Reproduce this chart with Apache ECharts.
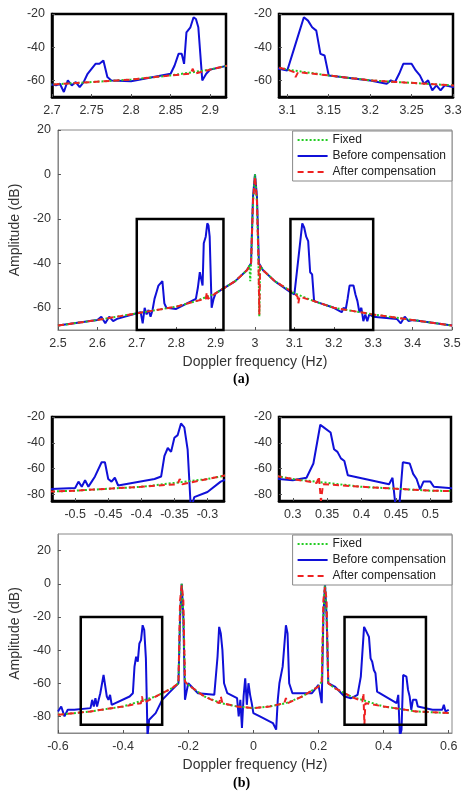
<!DOCTYPE html>
<html>
<head>
<meta charset="utf-8">
<script src="https://cdn.jsdelivr.net/npm/echarts@6/dist/echarts.min.js"></script>
<style>* {margin:0;padding:0;} #main {width:474px;height:798px;background:#fff;}</style>
</head>
<body>
<div id="main"></div>
<script>
// panel (a) data
let aFixX = [2.5, 2.6, 2.7, 2.8, 2.85, 2.9, 2.95, 2.98, 2.986, 2.988, 2.99, 2.995, 3.0, 3.005, 3.009, 3.011, 3.013, 3.02, 3.05, 3.1, 3.15, 3.2, 3.3, 3.4, 3.5];
let aFixY = [-68, -65.5, -62.5, -59.5, -57, -53.5, -48, -43, -41, -48, -40, -12, 0, -12, -40, -64, -41, -43, -48, -53.5, -57, -60, -63, -65.5, -68];
let aAftX = [2.5, 2.6, 2.7, 2.8, 2.85, 2.875, 2.878, 2.88, 2.9, 2.95, 2.98, 2.99, 2.995, 3.0, 3.005, 3.009, 3.011, 3.013, 3.02, 3.05, 3.1, 3.108, 3.11, 3.113, 3.15, 3.2, 3.3, 3.4, 3.5];
let aAftY = [-68, -65.5, -62.5, -59.5, -57, -56, -53, -56, -53.5, -48, -43, -40, -12, -1, -12, -40, -63, -41, -43, -48, -53.5, -55, -58, -55, -57, -60, -63, -65.5, -68];
let aBefX = [2.5, 2.6, 2.61, 2.62, 2.63, 2.64, 2.65, 2.7, 2.705, 2.71, 2.715, 2.72, 2.725, 2.73, 2.735, 2.74, 2.745, 2.75, 2.755, 2.76, 2.765, 2.77, 2.775, 2.8, 2.85, 2.855, 2.86, 2.864, 2.867, 2.87, 2.875, 2.879, 2.882, 2.885, 2.89, 2.895, 2.9, 2.95, 2.98, 2.99, 2.995, 3.0, 3.005, 3.01, 3.02, 3.05, 3.09, 3.1, 3.11, 3.12, 3.125, 3.13, 3.135, 3.14, 3.145, 3.15, 3.2, 3.22, 3.225, 3.23, 3.235, 3.24, 3.25, 3.255, 3.26, 3.265, 3.27, 3.275, 3.28, 3.285, 3.29, 3.3, 3.36, 3.37, 3.38, 3.39, 3.4, 3.5];
let aBefY = [-68, -65.5, -64, -67, -64, -66, -65, -62.5, -63, -62, -67, -60, -63, -61, -64, -61, -56, -53, -50, -50, -48, -58, -60, -60.5, -56, -51, -44, -44, -50, -31, -28, -22, -23, -28, -60, -56, -53.5, -48, -43, -40, -10, 0, -10, -40, -43, -48, -53, -54, -38, -22, -24, -28, -30, -44, -45, -57, -60, -62, -60, -61, -56, -50, -50, -54, -57, -62, -60, -66, -63, -66, -63, -64, -65, -67, -64, -66, -65.5, -68];
// panel (b) data
let bFixX = [-0.6, -0.5, -0.4, -0.3, -0.25, -0.23, -0.225, -0.22, -0.215, -0.21, -0.2, -0.15, -0.1, -0.05, 0, 0.05, 0.1, 0.15, 0.2, 0.21, 0.215, 0.22, 0.225, 0.23, 0.25, 0.3, 0.4, 0.5, 0.6];
let bFixY = [-79, -77, -74, -68, -63, -60, -20, 0, -20, -59, -61, -68, -72, -74, -75, -74, -72, -68, -62, -59, -20, 0, -20, -60, -63, -68, -74, -77, -78];
let bAftX = [-0.6, -0.5, -0.4, -0.345, -0.342, -0.338, -0.3, -0.25, -0.23, -0.225, -0.22, -0.215, -0.21, -0.2, -0.15, -0.105, -0.1, -0.095, -0.05, 0, 0.05, 0.095, 0.1, 0.105, 0.15, 0.2, 0.21, 0.215, 0.22, 0.225, 0.23, 0.25, 0.3, 0.335, 0.338, 0.341, 0.344, 0.4, 0.5, 0.6];
let bAftY = [-79, -77, -74, -72, -68, -72, -68, -63, -60, -10, -1, -10, -59, -61, -68, -72, -68, -72, -74, -75, -74, -72, -69, -72, -68, -62, -59, -10, -2, -10, -60, -63, -68, -71, -66, -85, -72, -74, -77, -78];
let bBefX = [-0.6, -0.59, -0.58, -0.57, -0.55, -0.5, -0.495, -0.49, -0.485, -0.48, -0.475, -0.47, -0.46, -0.455, -0.45, -0.445, -0.44, -0.435, -0.38, -0.37, -0.365, -0.36, -0.355, -0.35, -0.345, -0.34, -0.335, -0.33, -0.325, -0.32, -0.3, -0.28, -0.25, -0.23, -0.225, -0.22, -0.215, -0.21, -0.2, -0.17, -0.12, -0.11, -0.105, -0.1, -0.095, -0.09, -0.08, -0.05, -0.045, -0.04, -0.035, -0.03, -0.025, -0.02, -0.015, -0.01, -0.005, 0, 0.02, 0.06, 0.07, 0.075, 0.08, 0.09, 0.1, 0.105, 0.11, 0.12, 0.18, 0.2, 0.21, 0.215, 0.22, 0.225, 0.23, 0.25, 0.28, 0.3, 0.32, 0.33, 0.34, 0.345, 0.355, 0.36, 0.365, 0.37, 0.375, 0.38, 0.44, 0.445, 0.45, 0.455, 0.46, 0.47, 0.475, 0.48, 0.485, 0.49, 0.5, 0.505, 0.55, 0.58, 0.585, 0.59, 0.6];
let bBefY = [-77, -74, -80, -76, -76, -75, -70, -74, -69, -74, -70, -66, -55, -55, -68, -70, -67, -73, -68, -66, -50, -44, -47, -36, -34, -25, -28, -45, -92, -82, -78, -70, -64, -60, -20, 0, -20, -70, -60, -66, -67, -44, -26, -30, -40, -60, -66, -69, -80, -70, -87, -68, -57, -73, -60, -67, -72, -78, -80, -84, -88, -70, -60, -50, -25, -30, -60, -66, -66, -61, -72, -20, 0, -20, -60, -62, -68, -69, -67, -56, -26, -28, -32, -45, -47, -52, -54, -65, -72, -67, -92, -88, -55, -56, -64, -68, -76, -70, -70, -74, -76, -76, -73, -77, -76];
// axis ranges and tick labels
let aInL = [2.7, 2.92], aInR = [3.09, 3.3], aMain = [2.5, 3.5];
let aInTicksL = [2.7, 2.75, 2.8, 2.85, 2.9], aInTicksR = [3.1, 3.15, 3.2, 3.25, 3.3];
let aMainTicks = [2.5, 2.6, 2.7, 2.8, 2.9, 3, 3.1, 3.2, 3.3, 3.4, 3.5];
let aInY = [-70, -20], aInYTicks = [-60, -40, -20];
let aMainY = [-70, 20], aMainYTicks = [-60, -40, -20, 0, 20];
let bInL = [-0.535, -0.275], bInR = [0.28, 0.53], bMain = [-0.6, 0.61];
let bInTicksL = [-0.5, -0.45, -0.4, -0.35, -0.3], bInTicksR = [0.3, 0.35, 0.4, 0.45, 0.5];
let bMainTicks = [-0.6, -0.4, -0.2, 0, 0.2, 0.4, 0.6];
let bInY = [-85, -20], bInYTicks = [-80, -60, -40, -20];
let bMainY = [-90, 30], bMainYTicks = [-80, -60, -40, -20, 0, 20];

function pairs(xs, ys) { return xs.map((x, i) => [x, ys[i]]); }
let FONT = 'Liberation Sans';
let grids = [
	{left: 52, top: 14, width: 174, height: 83},
	{left: 279, top: 14, width: 174, height: 83},
	{left: 52, top: 130, width: 400, height: 200},
	{left: 52, top: 417, width: 172, height: 84},
	{left: 279, top: 417, width: 172, height: 84},
	{left: 52, top: 534, width: 400, height: 199}
];
let cfg = [
	{x: aInL, xt: aInTicksL, y: aInY, yt: aInYTicks, p: 'a', inset: true},
	{x: aInR, xt: aInTicksR, y: aInY, yt: aInYTicks, p: 'a', inset: true},
	{x: aMain, xt: aMainTicks, y: aMainY, yt: aMainYTicks, p: 'a', boxes: [aInL, aInR], bt: -20, bb: -70},
	{x: bInL, xt: bInTicksL, y: bInY, yt: bInYTicks, p: 'b', inset: true},
	{x: bInR, xt: bInTicksR, y: bInY, yt: bInYTicks, p: 'b', inset: true},
	{x: bMain, xt: bMainTicks, y: bMainY, yt: bMainYTicks, p: 'b', boxes: [[-0.53, -0.28], [0.28, 0.53]], bt: -20, bb: -85}
];
let data = {
	a: {fix: pairs(aFixX, aFixY), bef: pairs(aBefX, aBefY), aft: pairs(aAftX, aAftY)},
	b: {fix: pairs(bFixX, bFixY), bef: pairs(bBefX, bBefY), aft: pairs(bAftX, bAftY)}
};
let xAxis = [], yAxis = [], series = [];
cfg.forEach((c, i) => {
	let lineCol = c.inset ? '#000' : '#888';
	let lw = c.inset ? 2.5 : 1;
	xAxis.push({type: 'value', gridIndex: i, min: c.x[0], max: c.x[1],
		axisLine: {show: true, onZero: false, lineStyle: {color: lineCol, width: lw}},
		axisTick: {show: true, inside: true, length: 3, customValues: c.xt, lineStyle: {color: '#555'}},
		axisLabel: {customValues: c.xt, color: '#333', fontSize: 12.5, fontFamily: FONT, margin: 7, formatter: v => String(+v.toFixed(2))},
		splitLine: {show: false},
		name: c.inset ? '' : 'Doppler frequency (Hz)', nameLocation: 'middle', nameGap: 25,
		nameTextStyle: {color: '#333', fontSize: 14, fontFamily: FONT}});
	yAxis.push({type: 'value', gridIndex: i, min: c.y[0], max: c.y[1],
		axisLine: {show: true, onZero: false, lineStyle: {color: lineCol, width: lw}},
		axisTick: {show: true, inside: true, length: 3, customValues: c.yt, lineStyle: {color: '#555'}},
		axisLabel: {customValues: c.yt, color: '#333', fontSize: 12.5, fontFamily: FONT, margin: 7},
		splitLine: {show: false},
		name: c.inset ? '' : 'Amplitude (dB)', nameLocation: 'middle', nameGap: 32,
		nameTextStyle: {color: '#333', fontSize: 14, fontFamily: FONT}});
	let d = data[c.p];
	let blue = {name: 'Before compensation', type: 'line', xAxisIndex: i, yAxisIndex: i, data: d.bef,
		symbol: 'none', clip: true, z: 2, lineStyle: {color: '#1010d8', width: 2}, itemStyle: {color: '#1010d8'}};
	if (c.boxes) {
		blue.markArea = {silent: true, z: 5, itemStyle: {color: 'rgba(0,0,0,0)', borderColor: '#000', borderWidth: 2.5},
			data: c.boxes.map(b => [{xAxis: b[0], yAxis: c.bt}, {xAxis: b[1], yAxis: c.bb}])};
	}
	series.push(blue);
	series.push({name: 'Fixed', type: 'line', xAxisIndex: i, yAxisIndex: i, data: d.fix,
		symbol: 'none', clip: true, z: 3, lineStyle: {color: '#22cc22', width: 2, type: [2, 2]}, itemStyle: {color: '#22cc22'}});
	series.push({name: 'After compensation', type: 'line', xAxisIndex: i, yAxisIndex: i, data: d.aft,
		symbol: 'none', clip: true, z: 4, lineStyle: {color: '#ee2222', width: 2, type: [6, 4]}, itemStyle: {color: '#ee2222'}});
});
// right and top frame of every plot
grids.forEach((g, i) => {
	g.show = true;
	g.borderColor = cfg[i].inset ? '#000' : '#888';
	g.borderWidth = cfg[i].inset ? 2.5 : 1;
	g.backgroundColor = 'rgba(0,0,0,0)';
});
function legendAt(top) {
	return {data: ['Fixed', 'Before compensation', 'After compensation'], orient: 'vertical',
		right: 22, top: top, itemWidth: 30, itemHeight: 10, itemGap: 4, padding: [3, 6, 3, 4],
		backgroundColor: '#fff', borderColor: '#888', borderWidth: 1,
		itemStyle: {opacity: 0},
		textStyle: {fontSize: 12, fontFamily: FONT, color: '#222'}};
}
let option = {
	animation: false,
	backgroundColor: '#fff',
	grid: grids, xAxis: xAxis, yAxis: yAxis, series: series,
	legend: [legendAt(131), legendAt(535)],
	graphic: [
		{type: 'text', left: 233, top: 372, style: {text: '(a)', font: 'bold 14px "Liberation Serif"', fill: '#000'}},
		{type: 'text', left: 233, top: 776, style: {text: '(b)', font: 'bold 14px "Liberation Serif"', fill: '#000'}}
	]
};
let myChart = echarts.init(document.getElementById('main'));
myChart.setOption(option);
</script>
</body>
</html>
